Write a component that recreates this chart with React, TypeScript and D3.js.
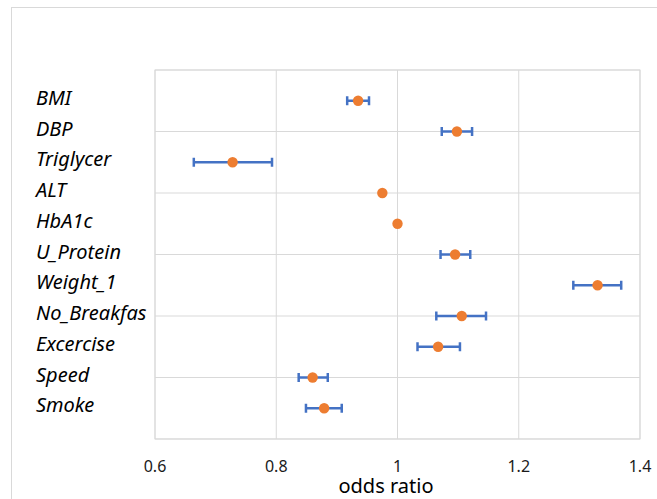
import React, { useRef, useEffect } from "react";
import * as d3 from "d3";

// variables, top to bottom
const labels = [
  "BMI",
  "DBP",
  "Triglycer",
  "ALT",
  "HbA1c",
  "U_Protein",
  "Weight_1",
  "No_Breakfas",
  "Excercise",
  "Speed",
  "Smoke",
];
const oddsRatio = [0.935, 1.098, 0.728, 0.975, 1.0, 1.095, 1.33, 1.106, 1.067, 0.86, 0.879];
const ciLow = [0.917, 1.073, 0.664, 0.975, 1.0, 1.071, 1.29, 1.064, 1.033, 0.837, 0.849];
const ciHigh = [0.953, 1.123, 0.793, 0.975, 1.0, 1.12, 1.369, 1.146, 1.103, 0.885, 0.908];
const xTicks = [0.6, 0.8, 1, 1.2, 1.4];

const App = () => {
  const chartRef = useRef<SVGSVGElement | null>(null);

  useEffect(() => {
    const svg = d3.select(chartRef.current);
    svg.selectAll("*").remove();

    const W = 657;
    const H = 499;
    const plot = { left: 155, right: 640, top: 70, bottom: 439 };
    const font = "'Noto Sans', 'Open Sans', sans-serif";

    // chart area border
    svg
      .append("rect")
      .attr("x", 11.5)
      .attr("y", 7.5)
      .attr("width", W)
      .attr("height", H)
      .attr("fill", "#fff")
      .attr("stroke", "#d9d9d9");

    const x = d3.scaleLinear().domain([0.6, 1.4]).range([plot.left, plot.right]);
    // y value 11 for first row down to 1 for last row
    const y = d3.scaleLinear().domain([0, 12]).range([plot.bottom, plot.top]);
    const rowVal = (i: number) => labels.length - i;

    const g = svg.append("g");

    // vertical gridlines
    g.selectAll(".vgrid")
      .data(xTicks)
      .enter()
      .append("line")
      .attr("x1", (d) => x(d))
      .attr("x2", (d) => x(d))
      .attr("y1", plot.top)
      .attr("y2", plot.bottom)
      .attr("stroke", "#d9d9d9")
      .attr("stroke-width", 1);

    // horizontal gridlines
    g.selectAll(".hgrid")
      .data(d3.range(0, 13, 2))
      .enter()
      .append("line")
      .attr("x1", plot.left)
      .attr("x2", plot.right)
      .attr("y1", (d) => y(d))
      .attr("y2", (d) => y(d))
      .attr("stroke", "#d9d9d9")
      .attr("stroke-width", 1);

    g.append("rect")
      .attr("x", plot.left)
      .attr("y", plot.top)
      .attr("width", plot.right - plot.left)
      .attr("height", plot.bottom - plot.top)
      .attr("fill", "none")
      .attr("stroke", "#d9d9d9");

    // error bars
    const capH = 4.5;
    const bars = g
      .selectAll(".err")
      .data(labels.map((l, i) => ({ l, i })).filter((d) => ciHigh[d.i] - ciLow[d.i] > 0.005))
      .enter()
      .append("g")
      .attr("stroke", "#4472c4")
      .attr("stroke-width", 2.5);

    bars
      .append("line")
      .attr("x1", (d) => x(ciLow[d.i]))
      .attr("x2", (d) => x(ciHigh[d.i]))
      .attr("y1", (d) => y(rowVal(d.i)))
      .attr("y2", (d) => y(rowVal(d.i)));
    bars
      .append("line")
      .attr("x1", (d) => x(ciLow[d.i]))
      .attr("x2", (d) => x(ciLow[d.i]))
      .attr("y1", (d) => y(rowVal(d.i)) - capH)
      .attr("y2", (d) => y(rowVal(d.i)) + capH);
    bars
      .append("line")
      .attr("x1", (d) => x(ciHigh[d.i]))
      .attr("x2", (d) => x(ciHigh[d.i]))
      .attr("y1", (d) => y(rowVal(d.i)) - capH)
      .attr("y2", (d) => y(rowVal(d.i)) + capH);

    // points
    g.selectAll(".pt")
      .data(oddsRatio)
      .enter()
      .append("circle")
      .attr("cx", (d) => x(d))
      .attr("cy", (_, i) => y(rowVal(i)))
      .attr("r", 5.2)
      .attr("fill", "#ed7d31");

    // row labels
    g.selectAll(".lbl")
      .data(labels)
      .enter()
      .append("text")
      .attr("x", 36)
      .attr("y", (_, i) => y(rowVal(i)) + 4)
      .text((d) => d)
      .style("font-family", font)
      .style("font-style", "italic")
      .style("font-size", "20px")
      .attr("fill", "#000");

    // x tick labels
    g.selectAll(".tick")
      .data(xTicks)
      .enter()
      .append("text")
      .attr("x", (d) => x(d))
      .attr("y", 472)
      .attr("text-anchor", "middle")
      .text((d) => d3.format("")(d))
      .style("font-family", font)
      .style("font-size", "16px")
      .attr("fill", "#1a1a1a");

    g.append("text")
      .attr("x", 386)
      .attr("y", 493)
      .attr("text-anchor", "middle")
      .text("odds ratio")
      .style("font-family", font)
      .style("font-size", "20px")
      .attr("fill", "#000");
  }, []);

  return (
    <svg
      ref={chartRef}
      width={657}
      height={499}
      style={{ position: "absolute", left: 0, top: 0, background: "#fff" }}
    />
  );
};

export default App;
